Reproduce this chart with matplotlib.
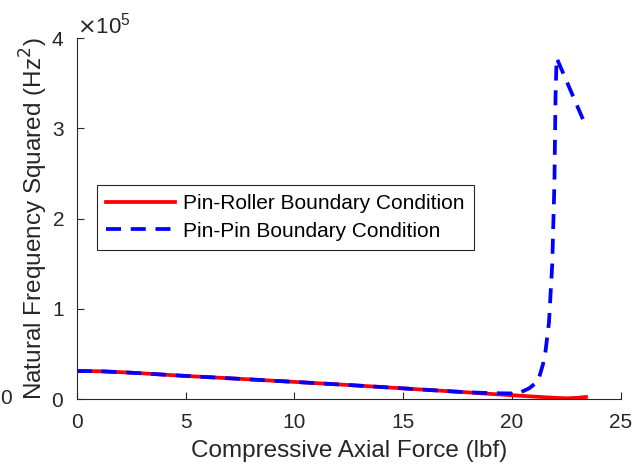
import numpy as np
import matplotlib.pyplot as plt

plt.rcParams['font.family'] = ['Liberation Sans', 'DejaVu Sans']

# Pin-Roller data (force in lbf, frequency squared in Hz^2)
force_roller = [0, 1, 2, 3, 4, 5, 6, 7, 8, 9, 10, 11, 12, 13, 14, 15, 16, 17, 18, 19, 20, 21, 22, 22.5, 23, 23.4]
freq_roller = [31000, 30800, 29800, 28500, 27000, 25600, 24300, 23000, 21700, 20300, 19000, 17600, 16200, 14800, 13300, 11800, 10300, 8800, 7300, 5700, 4200, 2700, 1300, 800, 1300, 2300]

# Pin-Pin data
force_pin = [0, 1, 2, 3, 4, 5, 6, 7, 8, 9, 10, 11, 12, 13, 14, 15, 16, 17, 18, 19, 20, 20.4, 20.8, 21.2, 21.5, 21.7, 21.85, 21.95, 22.0, 22.05, 23.35]
freq_pin = [31000, 30800, 29800, 28500, 27000, 25600, 24300, 23000, 21700, 20300, 19000, 17600, 16200, 14800, 13300, 11800, 10300, 8800, 7500, 6500, 6200, 7500, 12000, 20000, 45000, 85000, 150000, 240000, 335000, 378000, 305000]

fig, ax = plt.subplots(figsize=(6.4, 4.7), dpi=100)
fig.subplots_adjust(left=0.12, right=0.97, bottom=0.151, top=0.919)

ax.plot(force_roller, freq_roller, color='#ff0000', linewidth=2.7, label='Pin-Roller Boundary Condition')
ax.plot(force_pin, freq_pin, color='#0000ff', linewidth=2.7, linestyle=(0, (4, 2.6)), label='Pin-Pin Boundary Condition')

ax.set_xlim(0, 25)
ax.set_ylim(0, 4e5)
ax.set_xticks([0, 5, 10, 15, 20, 25])
ax.set_yticks([0, 1e5, 2e5, 3e5, 4e5])
ax.ticklabel_format(axis='y', style='sci', scilimits=(5, 5), useMathText=True)
ax.yaxis.get_offset_text().set_fontsize(16)
ax.yaxis.get_offset_text().set_color('#262626')

for s in ['top', 'right']:
    ax.spines[s].set_visible(False)
for s in ['left', 'bottom']:
    ax.spines[s].set_color('#262626')
ax.tick_params(direction='in', length=5, labelsize=15, colors='#262626', labelcolor='#262626')
ax.tick_params(axis='x', pad=10)
ax.tick_params(axis='y', pad=9)

ax.set_xlabel('Compressive Axial Force (lbf)', fontsize=17.5, color='#262626', labelpad=6)
ax.set_ylabel('Natural Frequency Squared (Hz$^2$)', fontsize=17.5, color='#262626')
ax.yaxis.set_label_coords(-0.05, 0.5)

leg = ax.legend(loc='lower left', bbox_to_anchor=(0.037, 0.413), borderaxespad=0, fontsize=15,
                fancybox=False, edgecolor='#262626', framealpha=1, handlelength=3.3, borderpad=0.45,
                labelspacing=0.4, handletextpad=0.4)
leg.get_frame().set_linewidth(0.8)

fig.text(0.0, 0.153, '0', fontsize=15, color='#262626', va='center', ha='left')

fig.savefig('out.png', dpi=100)
